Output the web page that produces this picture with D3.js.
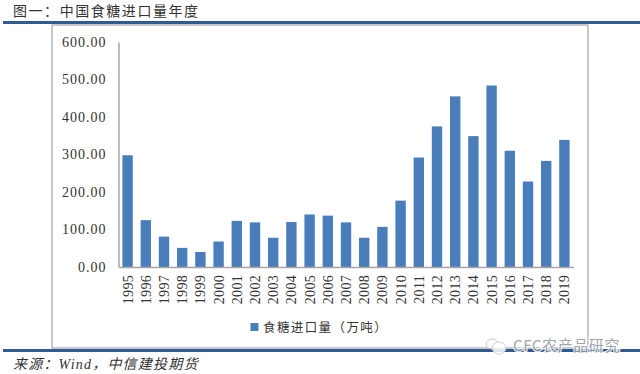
<!doctype html>
<html lang="zh">

<head>
  <meta charset="utf-8">
  <script src="https://d3js.org/d3.v7.min.js"></script>
  <title>中国食糖进口量年度</title>
  <style type="text/css">
    html,
    body {
      width: 100%;
      height: 100%;
      padding: 0;
      margin: 0;
      background: #fff;
    }

    svg {
      display: block;
    }

    .cn {
      font-family: "Liberation Serif", "Noto Sans CJK SC", serif;
      fill: #333;
    }

    .axis text {
      font-family: "Liberation Serif", serif;
      font-size: 14px;
      fill: #333;
    }

    .axis path {
      stroke: #a6a6a6;
      stroke-width: 1.5;
    }
  </style>
</head>

<body>
  <script>
    var years = ["1995", "1996", "1997", "1998", "1999", "2000", "2001", "2002", "2003", "2004", "2005", "2006", "2007", "2008", "2009", "2010", "2011", "2012", "2013", "2014", "2015", "2016", "2017", "2018", "2019"];
    var imports = [298, 125, 81, 51, 40, 68, 123, 119, 78, 120, 140, 137, 119, 78, 107, 177, 292, 375, 455, 349, 484, 310, 228, 283, 339];
    var yTicks = [0, 100, 200, 300, 400, 500, 600];
    var title = "图一：中国食糖进口量年度";
    var seriesName = "食糖进口量（万吨）";
    var source = "来源：Wind，中信建投期货";
    var watermark = "CFC农产品研究";

    var svg = d3.select("body").append("svg")
      .attr("width", 640)
      .attr("height", 374);

    // page header and footer rules
    var ruleColor = "#2f5b93";
    svg.append("rect").attr("x", 3).attr("y", 21).attr("width", 637).attr("height", 3).attr("fill", ruleColor);
    svg.append("rect").attr("x", 3).attr("y", 349).attr("width", 637).attr("height", 3).attr("fill", ruleColor);

    // chart frame
    svg.append("rect")
      .attr("x", 52).attr("y", 25)
      .attr("width", 536).attr("height", 323)
      .attr("fill", "#fff")
      .attr("stroke", "#a6a6a6")
      .attr("stroke-width", 1.2);

    svg.append("text").attr("class", "cn")
      .attr("x", 13).attr("y", 16)
      .style("font-size", "14px")
      .style("letter-spacing", "1.55px")
      .text(title);

    svg.append("text").attr("class", "cn")
      .attr("x", 13).attr("y", 369)
      .style("font-size", "14px")
      .style("font-style", "italic")
      .style("letter-spacing", "1.2px")
      .text(source);

    var xScale = d3.scaleBand()
      .domain(years)
      .range([118.5, 573.5])
      .paddingInner(0.43)
      .paddingOuter(0.215);

    var yScale = d3.scaleLinear()
      .domain([0, 600])
      .range([267, 42]);

    svg.selectAll(".bar")
      .data(imports)
      .enter().append("rect")
      .attr("class", "bar")
      .attr("x", function(d, i) { return xScale(years[i]); })
      .attr("y", function(d) { return yScale(d); })
      .attr("width", xScale.bandwidth())
      .attr("height", function(d) { return yScale(0) - yScale(d); })
      .attr("fill", "#4a7ebb");

    // y axis
    var yAxis = svg.append("g")
      .attr("class", "y axis")
      .attr("transform", "translate(118.5,0)")
      .call(d3.axisLeft(yScale).tickValues(yTicks).tickSize(0).tickPadding(12).tickFormat(d3.format(".2f")));
    yAxis.selectAll("text").style("letter-spacing", "1px");

    // x axis, labels turned to read upward
    var xAxis = svg.append("g")
      .attr("class", "x axis")
      .attr("transform", "translate(0,267)")
      .call(d3.axisBottom(xScale).tickSize(0));
    xAxis.selectAll("text")
      .attr("transform", "rotate(-90)")
      .attr("text-anchor", "end")
      .attr("x", -8)
      .attr("y", 0)
      .attr("dy", "0.35em")
      .style("letter-spacing", "0.3px");

    // legend
    svg.append("rect")
      .attr("x", 250.5).attr("y", 323)
      .attr("width", 8).attr("height", 8)
      .attr("fill", "#4a7ebb");
    svg.append("text").attr("class", "cn")
      .attr("x", 263).attr("y", 332)
      .style("font-size", "12.5px")
      .style("letter-spacing", "1.4px")
      .text(seriesName);

    // watermark across the lower rule
    var mark = svg.append("g").attr("opacity", 0.85);
    mark.append("ellipse").attr("cx", 492).attr("cy", 344).attr("rx", 6).attr("ry", 5)
      .attr("fill", "#fff").attr("stroke", "#c4c8cc");
    mark.append("ellipse").attr("cx", 499).attr("cy", 348).attr("rx", 7).attr("ry", 6)
      .attr("fill", "#fff").attr("stroke", "#c4c8cc");
    mark.append("text")
      .attr("x", 513).attr("y", 351)
      .style("font-family", "'Noto Sans CJK SC', sans-serif")
      .style("font-size", "15px")
      .style("letter-spacing", "0.6px")
      .style("fill", "#8f979e")
      .style("stroke", "#fff")
      .style("stroke-width", 2.5)
      .style("paint-order", "stroke")
      .text(watermark);
  </script>
</body>

</html>
